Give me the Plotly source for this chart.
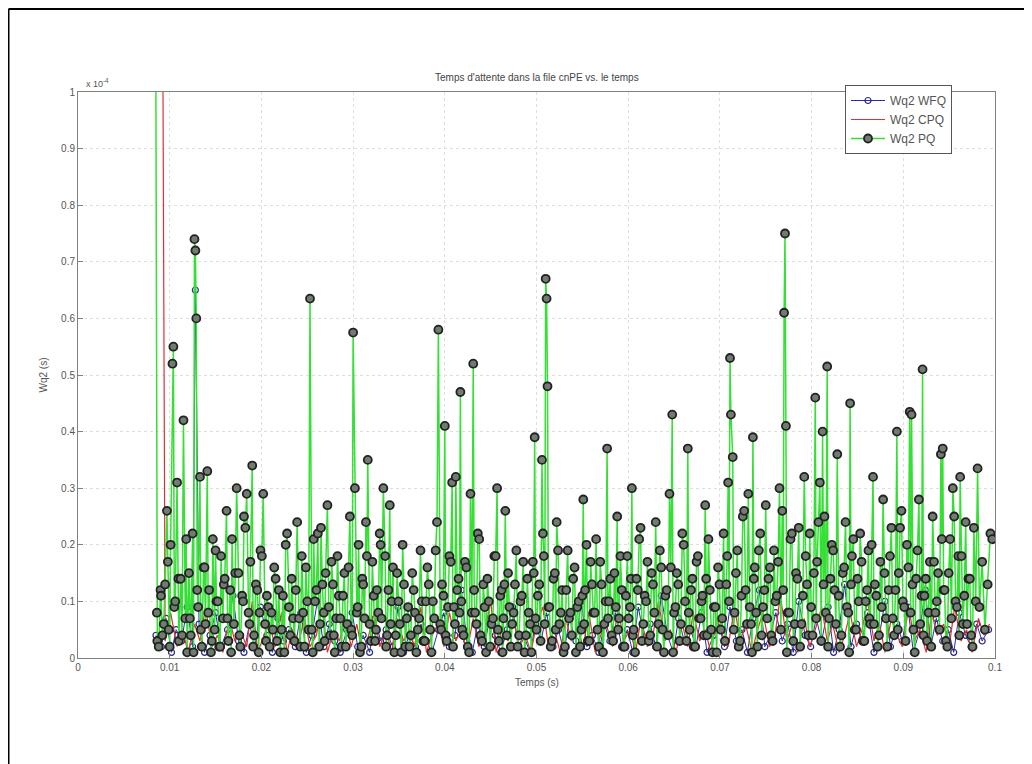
import plotly.graph_objects as go

# ---- data (time in ms, Wq2 in units of 1e-4 s) ----
pq_t = [8.4, 8.6, 8.8, 9.0, 9.2, 9.5, 9.7, 9.9, 10.1, 10.3, 10.4, 10.6, 10.8, 11.0, 11.2, 11.5, 11.7, 11.9, 12.1, 12.3,
        12.5, 12.7, 12.8, 12.9, 13.1, 13.3, 13.5, 13.7, 13.9, 14.1, 14.3, 14.5, 14.7, 14.9, 15.1, 15.4, 15.6, 15.8, 16.0, 16.2,
        16.4, 16.6, 16.8, 17.0, 17.3, 17.5, 17.7, 17.9, 18.1, 18.4, 18.6, 18.8, 19.0, 19.2, 19.4, 19.7, 19.9, 20.2, 20.4, 20.6,
        20.9, 21.1, 21.4, 21.7, 21.9, 22.2, 22.5, 22.8, 23.0, 23.3, 23.6, 23.9, 24.1, 24.4, 24.7, 25.0, 25.3, 25.5, 25.7, 26.0,
        26.3, 26.5, 26.8, 27.0, 27.2, 27.5, 27.8, 28.0, 28.3, 28.6, 28.9, 29.2, 29.5, 29.8, 30.0, 30.2, 30.4, 30.6, 30.9, 31.1,
        31.4, 31.6, 31.8, 32.1, 32.4, 32.6, 32.9, 33.1, 33.3, 33.5, 33.7, 34.0, 34.2, 34.5, 34.8, 35.1, 35.4, 35.7, 36.0, 36.3,
        36.6, 36.9, 37.2, 37.5, 37.8, 38.1, 38.4, 38.7, 39.0, 39.3, 39.5, 39.7, 40.0, 40.2, 40.5, 40.8, 41.0, 41.2, 41.5, 41.7,
        41.9, 42.2, 42.5, 42.8, 43.1, 43.3, 43.6, 43.9, 44.2, 44.5, 44.8, 45.1, 45.4, 45.7, 45.9, 46.2, 46.4, 46.6, 46.9, 47.2,
        47.5, 47.8, 48.1, 48.4, 48.7, 49.0, 49.3, 49.6, 49.8, 50.0, 50.3, 50.6, 50.8, 51.0, 51.1, 51.2, 51.4, 51.7, 52.0, 52.2,
        52.5, 52.8, 53.1, 53.4, 53.7, 54.0, 54.3, 54.6, 54.9, 55.1, 55.3, 55.6, 55.9, 56.2, 56.5, 56.8, 57.1, 57.4, 57.7, 57.9,
        58.2, 58.5, 58.8, 59.0, 59.3, 59.6, 59.9, 60.2, 60.4, 60.6, 60.9, 61.2, 61.5, 61.8, 62.1, 62.4, 62.7, 63.0, 63.3, 63.6,
        63.9, 64.2, 64.5, 64.8, 65.0, 65.3, 65.6, 65.9, 66.2, 66.5, 66.7, 67.0, 67.3, 67.6, 67.9, 68.1, 68.4, 68.6, 68.9, 69.2,
        69.5, 69.8, 70.1, 70.4, 70.7, 70.9, 71.1, 71.2, 71.4, 71.6, 71.9, 72.2, 72.5, 72.8, 73.1, 73.4, 73.6, 73.8, 74.1, 74.4,
        74.7, 75.0, 75.3, 75.6, 75.9, 76.2, 76.5, 76.8, 77.0, 77.1, 77.2, 77.4, 77.7, 78.0, 78.3, 78.6, 78.9, 79.2, 79.5, 79.8,
        80.1, 80.4, 80.6, 80.9, 81.2, 81.4, 81.7, 81.9, 82.2, 82.5, 82.8, 83.1, 83.4, 83.7, 84.0, 84.2, 84.4, 84.7, 85.0, 85.3,
        85.6, 85.9, 86.2, 86.4, 86.7, 86.9, 87.2, 87.5, 87.8, 88.1, 88.4, 88.7, 89.0, 89.3, 89.5, 89.8, 90.1, 90.4, 90.7, 90.9,
        91.1, 91.4, 91.7, 92.1, 92.3, 92.6, 92.9, 93.2, 93.5, 93.8, 94.1, 94.3, 94.5, 94.8, 95.1, 95.4, 95.7, 96.0, 96.2, 96.5,
        96.8, 97.1, 97.4, 97.7, 98.1, 98.3, 98.6, 98.9, 99.2, 99.5, 99.7]
pq_v = [1.60, 0.08, 0.02, 0.12, 0.04, 0.13, 0.26, 0.05, 0.20, 0.52, 0.55, 0.10, 0.31, 0.03, 0.14, 0.42, 0.07, 0.01, 0.15, 0.04,
        0.22, 0.74, 0.72, 0.60, 0.09, 0.32, 0.02, 0.16, 0.06, 0.33, 0.12, 0.01, 0.21, 0.05, 0.10, 0.02, 0.18, 0.07, 0.14, 0.26,
        0.03, 0.12, 0.21, 0.06, 0.30, 0.15, 0.02, 0.11, 0.25, 0.29, 0.08, 0.17, 0.34, 0.04, 0.13, 0.01, 0.19, 0.29, 0.06, 0.11,
        0.02, 0.08, 0.16, 0.03, 0.12, 0.05, 0.01, 0.22, 0.09, 0.14, 0.03, 0.24, 0.07, 0.18, 0.02, 0.10, 0.635, 0.05, 0.21, 0.12,
        0.02, 0.23, 0.08, 0.15, 0.27, 0.04, 0.13, 0.01, 0.18, 0.07, 0.11, 0.02, 0.16, 0.05, 0.575, 0.30, 0.08, 0.20, 0.02, 0.13,
        0.24, 0.35, 0.06, 0.17, 0.03, 0.12, 0.22, 0.07, 0.30, 0.18, 0.04, 0.27, 0.10, 0.01, 0.15, 0.06, 0.20, 0.02, 0.09, 0.04,
        0.12, 0.01, 0.07, 0.10, 0.03, 0.16, 0.05, 0.10, 0.19, 0.58, 0.06, 0.13, 0.41, 0.03, 0.18, 0.31, 0.09, 0.32, 0.14, 0.47,
        0.05, 0.17, 0.02, 0.29, 0.52, 0.08, 0.22, 0.04, 0.13, 0.01, 0.10, 0.06, 0.18, 0.30, 0.03, 0.12, 0.07, 0.26, 0.15, 0.02,
        0.08, 0.19, 0.04, 0.11, 0.01, 0.14, 0.06, 0.17, 0.39, 0.05, 0.13, 0.35, 0.18, 0.67, 0.635, 0.48, 0.09, 0.03, 0.15, 0.24,
        0.06, 0.12, 0.02, 0.19, 0.08, 0.14, 0.01, 0.10, 0.05, 0.28, 0.12, 0.03, 0.17, 0.08, 0.21, 0.02, 0.13, 0.06, 0.37, 0.10,
        0.04, 0.15, 0.25, 0.07, 0.12, 0.02, 0.18, 0.09, 0.30, 0.05, 0.14, 0.21, 0.03, 0.11, 0.17, 0.04, 0.13, 0.24, 0.06, 0.16,
        0.01, 0.12, 0.29, 0.43, 0.08, 0.15, 0.03, 0.22, 0.10, 0.37, 0.05, 0.14, 0.02, 0.18, 0.07, 0.11, 0.27, 0.04, 0.12, 0.01,
        0.09, 0.16, 0.05, 0.22, 0.13, 0.31, 0.53, 0.43, 0.355, 0.08, 0.19, 0.03, 0.25, 0.12, 0.29, 0.06, 0.39, 0.16, 0.02, 0.22,
        0.09, 0.27, 0.14, 0.04, 0.19, 0.11, 0.30, 0.26, 0.61, 0.75, 0.41, 0.08, 0.21, 0.03, 0.15, 0.23, 0.06, 0.32, 0.13, 0.22,
        0.04, 0.46, 0.17, 0.31, 0.40, 0.25, 0.515, 0.07, 0.20, 0.12, 0.36, 0.02, 0.15, 0.24, 0.08, 0.45, 0.18, 0.05, 0.14, 0.22,
        0.03, 0.10, 0.19, 0.06, 0.32, 0.13, 0.02, 0.17, 0.28, 0.07, 0.12, 0.23, 0.04, 0.40, 0.15, 0.26, 0.09, 0.20, 0.435, 0.43,
        0.05, 0.14, 0.28, 0.51, 0.11, 0.03, 0.17, 0.25, 0.08, 0.15, 0.36, 0.37, 0.12, 0.02, 0.21, 0.30, 0.10, 0.18, 0.32, 0.06,
        0.24, 0.14, 0.04, 0.23, 0.335, 0.09, 0.17, 0.05, 0.13, 0.22, 0.21]

# additional low-level PQ samples between the events above
pq_low_t = [8.65, 9.05, 9.35, 9.8, 10.0, 10.5, 10.95, 11.35, 11.8, 12.2, 12.6, 13.0, 13.4, 13.8, 14.2, 14.6, 15.0, 15.25,
            15.5, 15.9, 16.3, 16.7, 17.15, 17.6, 18.0, 18.25, 18.7, 19.1, 19.55, 19.8, 20.05, 20.5, 20.75, 21.25, 21.55,
            22.05, 22.35, 22.65, 23.15, 23.45, 23.75, 24.25, 24.55, 24.85, 25.15, 25.6, 25.85, 26.15, 26.4, 26.65, 26.9,
            27.35, 27.65, 27.9, 28.15, 28.45, 28.75, 29.05, 29.35, 29.65, 29.9, 30.5, 30.75, 31.0, 31.25, 31.5, 31.95, 32.25,
            32.5, 32.75, 33.0, 33.6, 33.85, 34.1, 34.35, 34.65, 34.95, 35.25, 35.55, 35.85, 36.15, 36.45, 36.75, 37.05,
            37.35, 37.65, 37.95, 38.25, 38.55, 38.85, 39.15, 39.6, 39.85, 40.1, 40.35, 40.65, 40.9, 41.1, 41.35, 41.6, 41.8,
            42.05, 42.35, 42.65, 42.95, 43.2, 43.45, 43.75, 44.05, 44.35, 44.65, 44.95, 45.25, 45.55, 45.8, 46.05, 46.3,
            46.5, 46.75, 47.05, 47.35, 47.65, 47.95, 48.25, 48.55, 48.85, 49.15, 49.45, 49.7, 49.9, 50.15, 50.45, 50.7,
            50.9, 51.3, 51.55, 51.85, 52.1, 52.35, 52.65, 52.95, 53.25, 53.55, 53.85, 54.15, 54.45, 54.75, 55.0, 55.2,
            55.45, 55.75, 56.05, 56.35, 56.65, 56.95, 57.25, 57.55, 57.8, 58.05, 58.35, 58.65, 58.9, 59.15, 59.45, 59.75,
            60.05, 60.3, 60.5, 60.75, 61.05, 61.35, 61.65, 61.95, 62.25, 62.55, 62.85, 63.15, 63.45, 63.75, 64.05, 64.35,
            64.65, 64.9, 65.15, 65.45, 65.75, 66.05, 66.35, 66.6, 66.85, 67.15, 67.45, 67.75, 68.0, 68.25, 68.5, 68.75,
            69.05, 69.35, 69.65, 69.95, 70.25, 70.55, 70.8, 71.0, 71.5, 71.75, 72.05, 72.35, 72.65, 72.95, 73.25, 73.5,
            73.7, 73.95, 74.25, 74.55, 74.85, 75.15, 75.45, 75.75, 76.05, 76.35, 76.65, 76.9, 77.3, 77.55, 77.85, 78.15,
            78.45, 78.75, 79.05, 79.35, 79.65, 79.95, 80.25, 80.5, 80.75, 81.05, 81.3, 81.55, 81.8, 82.05, 82.35, 82.65,
            82.95, 83.25, 83.55, 83.85, 84.1, 84.3, 84.55, 84.85, 85.15, 85.45, 85.75, 86.05, 86.3, 86.55, 86.8, 87.05,
            87.35, 87.65, 87.95, 88.25, 88.55, 88.85, 89.15, 89.4, 89.65, 89.95, 90.25, 90.55, 90.8, 91.0, 91.25, 91.55,
            91.85, 92.0, 92.2, 92.45, 92.75, 93.05, 93.35, 93.65, 93.95, 94.2, 94.4, 94.65, 94.95, 95.25, 95.55, 95.85,
            96.1, 96.35, 96.65, 96.95, 97.25, 97.55, 97.9, 98.2, 98.45, 98.75, 99.05, 99.35, 99.6]
pq_low_v = [0.03, 0.11, 0.06, 0.17, 0.02, 0.09, 0.14, 0.04, 0.21, 0.07, 0.01, 0.12, 0.05, 0.16, 0.08, 0.03, 0.19, 0.10, 0.02, 0.13,
            0.07, 0.01, 0.15, 0.04, 0.10, 0.23, 0.06, 0.02, 0.12, 0.08, 0.18, 0.03, 0.09, 0.05, 0.14, 0.01, 0.11, 0.20, 0.04, 0.07,
            0.12, 0.02, 0.08, 0.16, 0.05, 0.01, 0.10, 0.22, 0.06, 0.13, 0.03, 0.09, 0.17, 0.04, 0.07, 0.11, 0.02, 0.15, 0.06, 0.25,
            0.04, 0.09, 0.01, 0.14, 0.07, 0.18, 0.03, 0.11, 0.05, 0.08, 0.20, 0.02, 0.12, 0.06, 0.16, 0.04, 0.10, 0.01, 0.13, 0.07,
            0.02, 0.15, 0.08, 0.05, 0.19, 0.03, 0.10, 0.13, 0.01, 0.07, 0.24, 0.05, 0.11, 0.04, 0.09, 0.17, 0.02, 0.06, 0.12, 0.08,
            0.10, 0.04, 0.16, 0.01, 0.08, 0.12, 0.06, 0.21, 0.03, 0.09, 0.14, 0.02, 0.07, 0.18, 0.05, 0.11, 0.01, 0.13, 0.04, 0.09,
            0.06, 0.13, 0.02, 0.10, 0.17, 0.04, 0.08, 0.01, 0.15, 0.07, 0.11, 0.03, 0.22, 0.06, 0.09, 0.02, 0.14, 0.05, 0.19, 0.08,
            0.01, 0.12, 0.07, 0.04, 0.16, 0.09, 0.02, 0.11, 0.06, 0.20, 0.03, 0.13, 0.08, 0.05, 0.17, 0.01, 0.10, 0.07, 0.14, 0.03,
            0.09, 0.05, 0.18, 0.02, 0.11, 0.07, 0.14, 0.04, 0.01, 0.12, 0.23, 0.06, 0.10, 0.03, 0.15, 0.08, 0.02, 0.19, 0.05, 0.11,
            0.04, 0.16, 0.01, 0.09, 0.13, 0.06, 0.20, 0.03, 0.08, 0.12, 0.02, 0.17, 0.07, 0.10, 0.04, 0.14, 0.21, 0.05, 0.09, 0.01,
            0.13, 0.07, 0.03, 0.18, 0.10, 0.05, 0.15, 0.02, 0.11, 0.26, 0.06, 0.09, 0.01, 0.14, 0.08, 0.19, 0.04, 0.12, 0.07, 0.16,
            0.03, 0.10, 0.17, 0.05, 0.12, 0.01, 0.08, 0.22, 0.06, 0.14, 0.02, 0.11, 0.18, 0.04, 0.09, 0.15, 0.07, 0.24, 0.03, 0.13,
            0.08, 0.02, 0.14, 0.19, 0.06, 0.11, 0.04, 0.16, 0.09, 0.01, 0.13, 0.21, 0.05, 0.10, 0.17, 0.03, 0.12, 0.07, 0.20, 0.06,
            0.11, 0.04, 0.09, 0.15, 0.02, 0.18, 0.07, 0.12, 0.05, 0.23, 0.10, 0.03, 0.16, 0.08, 0.13, 0.01, 0.19, 0.06, 0.11, 0.04,
            0.14, 0.08, 0.02, 0.17, 0.10, 0.05, 0.21, 0.12, 0.03, 0.15, 0.07, 0.25, 0.09, 0.04, 0.18, 0.11, 0.06, 0.14, 0.02, 0.10]

wfq_t = [8.5, 9.1, 9.6, 10.2, 10.7, 11.3, 11.9, 12.5, 12.8, 13.2, 13.8, 14.4, 15.0, 15.6, 16.3, 16.9, 17.5, 18.1, 18.7, 19.3,
         19.9, 20.6, 21.2, 21.8, 22.4, 23.0, 23.7, 24.3, 24.9, 25.5, 26.1, 26.8, 27.4, 28.0, 28.6, 29.3, 29.9, 30.5, 31.1, 31.8,
         32.4, 33.0, 33.6, 34.3, 34.9, 35.5, 36.1, 36.8, 37.4, 38.0, 38.6, 39.3, 39.9, 40.5, 41.1, 41.8, 42.4, 43.0, 43.6, 44.3,
         44.9, 45.5, 46.1, 46.8, 47.4, 48.0, 48.6, 49.3, 49.9, 50.5, 51.1, 51.8, 52.4, 53.0, 53.6, 54.3, 54.9, 55.5, 56.1, 56.8,
         57.4, 58.0, 58.6, 59.3, 59.9, 60.5, 61.1, 61.8, 62.4, 63.0, 63.6, 64.3, 64.9, 65.5, 66.1, 66.8, 67.4, 68.0, 68.6, 69.3,
         69.9, 70.5, 71.1, 71.8, 72.4, 73.0, 73.6, 74.3, 74.9, 75.5, 76.1, 76.8, 77.4, 78.0, 78.6, 79.3, 79.9, 80.5, 81.1, 81.8,
         82.4, 83.0, 83.6, 84.3, 84.9, 85.5, 86.1, 86.8, 87.4, 88.0, 88.6, 89.3, 89.9, 90.5, 91.1, 91.8, 92.4, 93.0, 93.6, 94.3,
         94.9, 95.5, 96.1, 96.8, 97.4, 98.0, 98.6, 99.3]
wfq_v = [0.04, 0.02, 0.07, 0.01, 0.05, 0.03, 0.09, 0.02, 0.65, 0.06, 0.01, 0.04, 0.08, 0.02, 0.05, 0.11, 0.03, 0.01, 0.06, 0.02,
         0.09, 0.04, 0.01, 0.07, 0.03, 0.05, 0.02, 0.08, 0.01, 0.04, 0.10, 0.02, 0.06, 0.03, 0.01, 0.05, 0.08, 0.02, 0.04, 0.01,
         0.07, 0.03, 0.05, 0.02, 0.09, 0.01, 0.04, 0.02, 0.06, 0.03, 0.01, 0.05, 0.08, 0.02, 0.04, 0.12, 0.03, 0.01, 0.06, 0.02,
         0.07, 0.04, 0.01, 0.05, 0.09, 0.02, 0.04, 0.01, 0.06, 0.03, 0.08, 0.02, 0.05, 0.01, 0.07, 0.03, 0.10, 0.02, 0.04, 0.01,
         0.06, 0.03, 0.08, 0.02, 0.05, 0.01, 0.09, 0.03, 0.06, 0.02, 0.11, 0.04, 0.01, 0.07, 0.03, 0.05, 0.02, 0.08, 0.01, 0.04,
         0.06, 0.02, 0.09, 0.03, 0.05, 0.01, 0.07, 0.12, 0.02, 0.04, 0.08, 0.03, 0.06, 0.01, 0.10, 0.04, 0.02, 0.07, 0.03, 0.09,
         0.01, 0.05, 0.13, 0.02, 0.06, 0.03, 0.08, 0.01, 0.04, 0.10, 0.02, 0.06, 0.03, 0.09, 0.01, 0.05, 0.12, 0.02, 0.07, 0.03,
         0.05, 0.01, 0.08, 0.04, 0.02, 0.06, 0.03, 0.05]

cpq_t = [9.2, 9.5, 10.1, 10.8, 11.4, 12.0, 12.7, 13.3, 13.9, 14.6, 15.2, 15.8, 16.5, 17.1, 17.7, 18.4, 19.0, 19.6, 20.3, 20.9,
         21.5, 22.2, 22.8, 23.4, 24.1, 24.7, 25.3, 26.0, 26.6, 27.2, 27.9, 28.5, 29.1, 29.8, 30.4, 31.0, 31.7, 32.3, 32.9, 33.6,
         34.2, 34.8, 35.5, 36.1, 36.7, 37.4, 38.0, 38.6, 39.3, 39.9, 40.5, 41.2, 41.8, 42.4, 43.1, 43.7, 44.3, 45.0, 45.6, 46.2,
         46.9, 47.5, 48.1, 48.8, 49.4, 50.0, 50.7, 51.3, 51.9, 52.6, 53.2, 53.8, 54.5, 55.1, 55.7, 56.4, 57.0, 57.6, 58.3, 58.9,
         59.5, 60.2, 60.8, 61.4, 62.1, 62.7, 63.3, 64.0, 64.6, 65.2, 65.9, 66.5, 67.1, 67.8, 68.4, 69.0, 69.7, 70.3, 70.9, 71.6,
         72.2, 72.8, 73.5, 74.1, 74.7, 75.4, 76.0, 76.6, 77.3, 77.9, 78.5, 79.2, 79.8, 80.4, 81.1, 81.7, 82.3, 83.0, 83.6, 84.2,
         84.9, 85.5, 86.1, 86.8, 87.4, 88.0, 88.7, 89.3, 89.9, 90.6, 91.2, 91.8, 92.5, 93.1, 93.7, 94.4, 95.0, 95.6, 96.3, 96.9,
         97.5, 98.2, 98.8, 99.4]
cpq_v = [1.30, 0.03, 0.08, 0.02, 0.05, 0.01, 0.06, 0.03, 0.09, 0.02, 0.04, 0.01, 0.07, 0.03, 0.05, 0.02, 0.10, 0.01, 0.04, 0.06,
         0.02, 0.08, 0.01, 0.05, 0.03, 0.07, 0.02, 0.04, 0.09, 0.01, 0.05, 0.03, 0.07, 0.02, 0.06, 0.01, 0.04, 0.08, 0.02, 0.05,
         0.01, 0.07, 0.03, 0.05, 0.02, 0.09, 0.01, 0.04, 0.06, 0.02, 0.08, 0.03, 0.05, 0.01, 0.07, 0.02, 0.04, 0.10, 0.01, 0.05,
         0.03, 0.07, 0.02, 0.04, 0.01, 0.06, 0.09, 0.02, 0.05, 0.01, 0.07, 0.03, 0.05, 0.02, 0.08, 0.01, 0.04, 0.06, 0.02, 0.09,
         0.03, 0.05, 0.01, 0.07, 0.02, 0.04, 0.10, 0.03, 0.05, 0.01, 0.06, 0.02, 0.08, 0.03, 0.05, 0.01, 0.07, 0.04, 0.02, 0.09,
         0.03, 0.06, 0.01, 0.05, 0.08, 0.02, 0.04, 0.11, 0.03, 0.06, 0.01, 0.07, 0.02, 0.05, 0.09, 0.03, 0.06, 0.01, 0.04, 0.08,
         0.02, 0.05, 0.10, 0.03, 0.06, 0.01, 0.07, 0.04, 0.02, 0.09, 0.03, 0.05, 0.01, 0.08, 0.04, 0.06, 0.02, 0.09, 0.03, 0.05,
         0.01, 0.07, 0.04, 0.06]

x_ticks = [0, 0.01, 0.02, 0.03, 0.04, 0.05, 0.06, 0.07, 0.08, 0.09, 0.1]
x_labels = ["0", "0.01", "0.02", "0.03", "0.04", "0.05", "0.06", "0.07", "0.08", "0.09", "0.1"]
y_ticks = [0, 0.1, 0.2, 0.3, 0.4, 0.5, 0.6, 0.7, 0.8, 0.9, 1]
y_labels = ["0", "0.1", "0.2", "0.3", "0.4", "0.5", "0.6", "0.7", "0.8", "0.9", "1"]

title_text = "Temps d'attente dans la file cnPE vs. le temps"
series_names = ["Wq2 WFQ", "Wq2 CPQ", "Wq2 PQ"]

# merge the PQ event samples with the low-level samples, in time order
pq_pairs = sorted(list(zip(pq_t, pq_v)) + list(zip(pq_low_t, pq_low_v)))
pq_all_t = [p[0] for p in pq_pairs]
pq_all_v = [p[1] for p in pq_pairs]

def to_s(ms):
    return [v / 1000.0 for v in ms]

FONT = "Liberation Sans, Arial, sans-serif"
TXT = "#555555"

fig = go.Figure()
fig.add_trace(go.Scatter(x=to_s(wfq_t), y=wfq_v, name=series_names[0], mode="lines+markers",
                         line=dict(color="#2a2ab0", width=1),
                         marker=dict(symbol="circle-open", size=6, color="#2a2a80", line=dict(width=1.2))))
fig.add_trace(go.Scatter(x=to_s(cpq_t), y=cpq_v, name=series_names[1], mode="lines",
                         line=dict(color="#e03030", width=1.2)))
fig.add_trace(go.Scatter(x=to_s(pq_all_t), y=pq_all_v, name=series_names[2], mode="lines+markers",
                         line=dict(color="#33e033", width=1.5),
                         marker=dict(symbol="circle", size=8, color="#707c70",
                                     line=dict(color="#222222", width=1.8))))

# page body has an 8px margin: convert screen pixels to figure pixels
OFF = 8
W, H = 1032 - OFF, 764 - OFF
L, R, T, B = 78 - OFF, 995 - OFF, 92 - OFF, 658 - OFF
pw, ph = R - L, B - T

def px(s):
    return (s - OFF - L) / pw

def py(s):
    return (B - (s - OFF)) / ph

axis_common = dict(showline=True, linecolor="#808080", linewidth=1, mirror=True,
                   ticks="inside", ticklen=5, tickcolor="#808080",
                   showgrid=True, gridcolor="#dedede", griddash="dot", gridwidth=1,
                   zeroline=False, tickfont=dict(family=FONT, size=10, color=TXT))

fig.update_layout(
    width=W, height=H,
    margin=dict(l=L, r=W - R, t=T, b=H - B),
    paper_bgcolor="white", plot_bgcolor="white",
    showlegend=True,
    legend=dict(x=px(845), y=py(85), xanchor="left", yanchor="top",
                bgcolor="white", bordercolor="#555555", borderwidth=1,
                font=dict(family=FONT, size=12, color=TXT), tracegroupgap=0,
                itemwidth=34, entrywidth=118, entrywidthmode="pixels"),
    xaxis=dict(range=[0, 0.1], tickvals=x_ticks, ticktext=x_labels, **axis_common),
    yaxis=dict(range=[0, 1], tickvals=y_ticks, ticktext=y_labels, **axis_common),
    annotations=[
        dict(text=title_text, x=0.5, y=py(70), xref="paper", yref="paper", showarrow=False,
             font=dict(family=FONT, size=10, color="#444444")),
        dict(text="Temps (s)", x=0.5, y=py(690), xref="paper", yref="paper", showarrow=False,
             font=dict(family=FONT, size=10, color=TXT)),
        dict(text="Wq2 (s)", x=px(35), y=py(375), xref="paper", yref="paper", showarrow=False,
             textangle=-90, font=dict(family=FONT, size=10, color=TXT)),
        dict(text="x 10<sup>-4</sup>", x=px(84), y=py(91), xref="paper", yref="paper", showarrow=False,
             xanchor="left", yanchor="bottom", font=dict(family=FONT, size=9, color=TXT)),
    ],
    shapes=[
        dict(type="line", xref="paper", yref="paper", x0=px(8.5), x1=px(8.5), y0=py(9), y1=py(764),
             line=dict(color="black", width=2)),
        dict(type="line", xref="paper", yref="paper", x0=px(8.5), x1=px(1032), y0=py(9), y1=py(9),
             line=dict(color="black", width=2)),
    ],
)

fig.write_html("out.html")
